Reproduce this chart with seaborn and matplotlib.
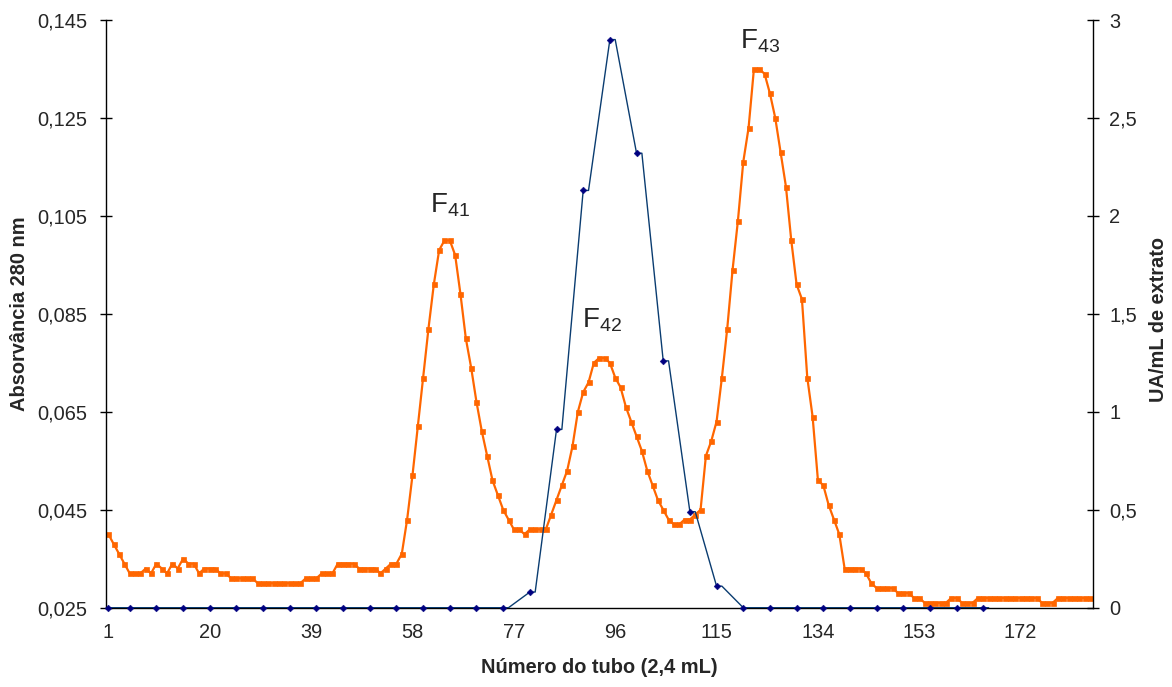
import numpy as np
import pandas as pd
import matplotlib
matplotlib.use("Agg")
import matplotlib.pyplot as plt
from matplotlib.ticker import FixedLocator, FuncFormatter, NullFormatter
import seaborn as sns

# Absorbance at 280 nm for each collected tube (1..185)
absorbance = [
    0.040, 0.038, 0.036, 0.034, 0.032, 0.032, 0.032, 0.033, 0.032, 0.034,
    0.033, 0.032, 0.034, 0.033, 0.035, 0.034, 0.034, 0.032, 0.033, 0.033,
    0.033, 0.032, 0.032, 0.031, 0.031, 0.031, 0.031, 0.031, 0.030, 0.030,
    0.030, 0.030, 0.030, 0.030, 0.030, 0.030, 0.030, 0.031, 0.031, 0.031,
    0.032, 0.032, 0.032, 0.034, 0.034, 0.034, 0.034, 0.033, 0.033, 0.033,
    0.033, 0.032, 0.033, 0.034, 0.034, 0.036, 0.043, 0.052, 0.062, 0.072,
    0.082, 0.091, 0.098, 0.100, 0.100, 0.097, 0.089, 0.080, 0.074, 0.067,
    0.061, 0.056, 0.051, 0.048, 0.045, 0.043, 0.041, 0.041, 0.040, 0.041,
    0.041, 0.041, 0.041, 0.044, 0.047, 0.050, 0.053, 0.058, 0.065, 0.069,
    0.071, 0.075, 0.076, 0.076, 0.075, 0.072, 0.070, 0.066, 0.063, 0.060,
    0.057, 0.053, 0.050, 0.047, 0.045, 0.043, 0.042, 0.042, 0.043, 0.043,
    0.044, 0.045, 0.056, 0.059, 0.063, 0.072, 0.082, 0.094, 0.104, 0.116,
    0.123, 0.135, 0.135, 0.134, 0.130, 0.125, 0.118, 0.111, 0.100, 0.091,
    0.088, 0.072, 0.064, 0.051, 0.050, 0.046, 0.043, 0.040, 0.033, 0.033,
    0.033, 0.033, 0.032, 0.030, 0.029, 0.029, 0.029, 0.029, 0.028, 0.028,
    0.028, 0.027, 0.027, 0.026, 0.026, 0.026, 0.026, 0.026, 0.027, 0.027,
    0.026, 0.026, 0.026, 0.027, 0.027, 0.027, 0.027, 0.027, 0.027, 0.027,
    0.027, 0.027, 0.027, 0.027, 0.027, 0.026, 0.026, 0.026, 0.027, 0.027,
    0.027, 0.027, 0.027, 0.027, 0.027,
]
tubes = list(range(1, len(absorbance) + 1))

# Enzyme activity (UA/mL of extract), assayed on every fifth tube
ua_tubes = [1] + list(range(5, 166, 5))
ua_values = [0.0] * 16 + [0.08, 0.91, 2.13, 2.90, 2.32, 1.26, 0.49, 0.11] + [0.0] * 10

# Peak labels: subscript, tube, absorbance at text baseline
peak_names = ["41", "42", "43"]
peak_tubes = [61.3, 89.7, 119.3]
peak_levels = [0.1057, 0.0822, 0.1392]

x_labels = [1, 20, 39, 58, 77, 96, 115, 134, 153, 172]
left_ticks = [0.025, 0.045, 0.065, 0.085, 0.105, 0.125, 0.145]
right_ticks = [0, 0.5, 1, 1.5, 2, 2.5, 3]

sns.set_style("white")
plt.rcParams["font.family"] = ["Liberation Sans", "DejaVu Sans"]
plt.rcParams["mathtext.fontset"] = "custom"
plt.rcParams["mathtext.rm"] = "Liberation Sans"

ORANGE = "#FF6600"
NAVY_LINE = "#0A3C70"
NAVY_MARK = "#000080"

df_abs = pd.DataFrame({"tubo": tubes, "abs": absorbance})
# activity line holds each assayed value for one tube before moving on
step_x, step_y = [], []
for t, v in zip(ua_tubes, ua_values):
    step_x += [t, t + 1]
    step_y += [v, v]
df_ua_line = pd.DataFrame({"tubo": step_x, "ua": step_y})
df_ua = pd.DataFrame({"tubo": ua_tubes, "ua": ua_values})

fig = plt.figure(figsize=(11.72, 6.87), dpi=100)
ax = fig.add_axes([105.7 / 1172, 1 - 607.7 / 687, 987 / 1172, 587.7 / 687])
ax2 = ax.twinx()

sns.lineplot(data=df_abs, x="tubo", y="abs", ax=ax, color=ORANGE, lw=1.6,
             marker="s", markersize=3.6, markeredgecolor=ORANGE,
             markeredgewidth=0.5, estimator=None)
sns.lineplot(data=df_ua_line, x="tubo", y="ua", ax=ax2, color=NAVY_LINE,
             lw=1.0, estimator=None, sort=False)
sns.scatterplot(data=df_ua, x="tubo", y="ua", ax=ax2, marker="D", s=12,
                color=NAVY_MARK, edgecolor=NAVY_MARK, linewidth=0.3, zorder=4,
                clip_on=False)

ax.set_xlim(0.5, len(absorbance) + 0.5)
ax.set_ylim(0.025, 0.145)
ax2.set_ylim(0, 3)

fs = 14.4
tick_kw = dict(direction="inout", length=8, width=1, color="black")

# category axis: marks between categories, labels on categories
ax.xaxis.set_major_locator(FixedLocator([0.5 + 19 * i for i in range(10)]))
ax.xaxis.set_major_formatter(NullFormatter())
ax.xaxis.set_minor_locator(FixedLocator(x_labels))
ax.xaxis.set_minor_formatter(FuncFormatter(lambda v, p: f"{int(round(v))}"))
ax.tick_params(axis="x", which="major", **tick_kw)
ax.tick_params(axis="x", which="minor", length=0, pad=11, labelsize=fs)

comma = lambda fmt: FuncFormatter(lambda v, p: fmt(v).replace(".", ","))
ax.set_yticks(left_ticks)
ax.yaxis.set_major_formatter(comma(lambda v: f"{v:.3f}"))
ax.tick_params(axis="y", which="major", pad=9, labelsize=fs, **tick_kw)

ax2.set_yticks(right_ticks)
ax2.yaxis.set_major_formatter(comma(lambda v: f"{v:g}"))
ax2.tick_params(axis="y", which="major", pad=8, labelsize=fs, **tick_kw)

for a in (ax, ax2):
    a.spines["top"].set_visible(False)
    for s in a.spines.values():
        s.set_color("black")
        s.set_linewidth(1.0)
ax.spines["right"].set_visible(False)
ax2.spines["left"].set_visible(False)
ax2.spines["bottom"].set_visible(False)

ax.set_xlabel("Número do tubo (2,4 mL)", fontsize=fs, fontweight="bold")
ax.set_ylabel("Absorvância 280 nm", fontsize=fs, fontweight="bold")
ax2.set_ylabel("UA/mL de extrato", fontsize=fs, fontweight="bold", rotation=90)
ax.xaxis.set_label_coords(0.5, -0.1026)
ax.xaxis.label.set_va("center")
ax.yaxis.set_label_coords(-0.0869, 0.5)
ax.yaxis.label.set_va("center")
ax2.yaxis.set_label_coords(1.0662, 0.49)
ax2.yaxis.label.set_va("center")

for name, t, lvl in zip(peak_names, peak_tubes, peak_levels):
    ax.text(t, lvl, r"$\mathregular{F_{%s}}$" % name, fontsize=20,
            ha="left", va="baseline")

fig.savefig("out.png", dpi=100)
